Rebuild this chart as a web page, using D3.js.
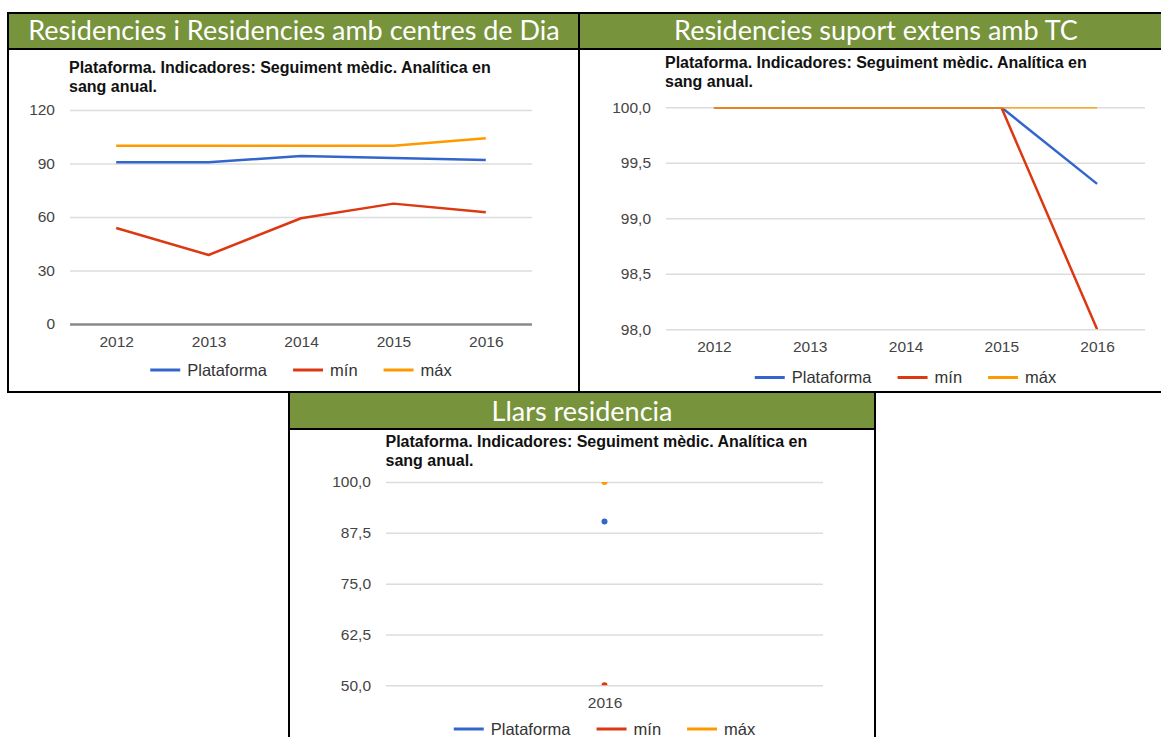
<!DOCTYPE html>
<html>
<head>
<meta charset="utf-8">
<script src="https://cdn.jsdelivr.net/npm/d3@7"></script>
<style>
  body { margin: 0; background: #fff; }
  svg { display: block; }
  .axis text { font-family: "Liberation Sans", Arial, sans-serif; font-size: 15.5px; fill: #444; }
  .sub { font-family: "Liberation Sans", Arial, sans-serif; font-size: 16px; font-weight: bold; fill: #111; }
  .legend text { font-family: "Liberation Sans", Arial, sans-serif; font-size: 16.5px; fill: #333; }
  .head { font-family: Lato, "Open Sans", sans-serif; font-size: 27px; fill: #fff; }
</style>
</head>
<body>
<div id="container"></div>
<script>
// data
const years = ["2012", "2013", "2014", "2015", "2016"];
const resPlataforma = [90.7, 90.7, 94.2, 93.1, 92.0];
const resMin = [53.8, 38.7, 59.3, 67.5, 62.6];
const resMax = [100, 100, 100, 100, 104.1];
const resTicks = [0, 30, 60, 90, 120];

const extPlataforma = [100, 100, 100, 100, 99.31];
const extMin = [100, 100, 100, 100, 98.0];
const extMax = [100, 100, 100, 100, 100];
const extTicks = [98, 98.5, 99, 99.5, 100];

const llarsYears = ["2016"];
const llarsPlataforma = [90.3];
const llarsMin = [50];
const llarsMax = [100];
const llarsTicks = [50, 62.5, 75, 87.5, 100];

const seriesNames = ["Plataforma", "mín", "máx"];
const colors = ["#3366cc", "#dc3912", "#ff9900"];
const subtitle = ["Plataforma. Indicadores: Seguiment mèdic. Analítica en", "sang anual."];

const width = 1161, height = 737;
const green = "#77933c";

const svg = d3.select("#container").append("svg")
  .attr("width", width).attr("height", height);

const comma = d3.formatLocale({decimal: ",", thousands: ".", grouping: [3], currency: ["", "€"]});

// panel boxes with green headers
function panel(x0, y0, x1, y1, headH, title, titleX, baseline) {
  svg.append("rect").attr("x", x0).attr("y", y0).attr("width", x1 - x0).attr("height", y1 - y0)
    .attr("fill", "#fff");
  svg.append("rect").attr("x", x0).attr("y", y0).attr("width", x1 - x0).attr("height", headH)
    .attr("fill", green);
  svg.append("line").attr("x1", x0).attr("x2", x1).attr("y1", y0 + headH).attr("y2", y0 + headH)
    .attr("stroke", "#000").attr("stroke-width", 2);
  svg.append("rect").attr("x", x0).attr("y", y0).attr("width", x1 - x0).attr("height", y1 - y0)
    .attr("fill", "none").attr("stroke", "#000").attr("stroke-width", 2);
  svg.append("text").attr("class", "head").attr("x", titleX).attr("y", baseline)
    .attr("text-anchor", "middle").text(title);
}

panel(8, 13, 579, 392, 36, "Residencies i Residencies amb centres de Dia", 294, 40);
panel(579, 13, 1175, 392, 36, "Residencies suport extens amb TC", 876, 40);
panel(289, 392, 875, 745, 37, "Llars residencia", 582, 421);

function drawChart(cfg) {
  const g = svg.append("g");
  const x = d3.scalePoint().domain(cfg.cats).range([cfg.left, cfg.right]).padding(0.5);
  const y = d3.scaleLinear().domain([cfg.ticks[0], cfg.ticks[cfg.ticks.length - 1]])
    .range([cfg.bottom, cfg.top]);

  // subtitle
  subtitle.forEach((s, i) => {
    g.append("text").attr("class", "sub").attr("x", cfg.subX).attr("y", cfg.subY + i * 19).text(s);
  });

  const yAxis = g.append("g").attr("class", "axis")
    .attr("transform", "translate(" + cfg.left + ",0)")
    .call(d3.axisLeft(y).tickValues(cfg.ticks).tickSize(-(cfg.right - cfg.left)).tickPadding(15)
      .tickFormat(cfg.fmt));
  yAxis.select(".domain").remove();
  yAxis.selectAll("line").attr("stroke", "#dcdcdc").attr("stroke-width", 1.5);
  if (cfg.zeroLine) {
    yAxis.selectAll(".tick").filter(d => d === 0).select("line")
      .attr("stroke", "#8a8a8a").attr("stroke-width", 2.5);
  }

  const xAxis = g.append("g").attr("class", "axis")
    .attr("transform", "translate(0," + cfg.bottom + ")")
    .call(d3.axisBottom(x).tickSize(0).tickPadding(12));
  xAxis.select(".domain").remove();
  xAxis.selectAll("text").attr("fill", "#333");

  const clipId = "clip" + cfg.id;
  svg.append("clipPath").attr("id", clipId).append("rect")
    .attr("x", cfg.left).attr("y", cfg.top).attr("width", cfg.right - cfg.left)
    .attr("height", cfg.bottom - cfg.top);

  const plot = g.append("g").attr("clip-path", "url(#" + clipId + ")");
  const line = d3.line().x((d, i) => x(cfg.cats[i])).y(d => y(d));

  cfg.series.forEach((vals, k) => {
    if (vals.length > 1) {
      plot.append("path").datum(vals)
        .attr("fill", "none").attr("stroke", colors[k]).attr("stroke-width", 2.5)
        .attr("stroke-linejoin", "round").attr("d", line);
    } else {
      plot.selectAll(null).data(vals).enter().append("circle")
        .attr("cx", (d, i) => x(cfg.cats[i])).attr("cy", d => y(d)).attr("r", 3)
        .attr("fill", colors[k]);
    }
  });

  // legend centred under the plot
  const leg = g.append("g").attr("class", "legend");
  let cx = 0;
  seriesNames.forEach((name, k) => {
    const it = leg.append("g");
    it.append("line").attr("x1", 0).attr("x2", 30).attr("y1", 0).attr("y2", 0)
      .attr("stroke", colors[k]).attr("stroke-width", 3);
    const t = it.append("text").attr("x", 37).attr("dy", "0.36em").text(name);
    const w = 37 + t.node().getComputedTextLength();
    it.attr("transform", "translate(" + cx + ",0)");
    cx += w + 26;
  });
  const total = cx - 26;
  leg.attr("transform", "translate(" + ((cfg.left + cfg.right) / 2 - total / 2) + "," + cfg.legY + ")");
}

drawChart({
  id: 1, cats: years, series: [resPlataforma, resMin, resMax], ticks: resTicks,
  left: 70, right: 532, top: 110, bottom: 324, zeroLine: true,
  fmt: d3.format("d"), subX: 69, subY: 73, legY: 370
});

drawChart({
  id: 2, cats: years, series: [extPlataforma, extMin, extMax], ticks: extTicks,
  left: 666, right: 1145, top: 107.3, bottom: 329.3, zeroLine: false,
  fmt: comma.format(".1f"), subX: 665, subY: 68, legY: 377.5
});

drawChart({
  id: 3, cats: llarsYears, series: [llarsPlataforma, llarsMin, llarsMax], ticks: llarsTicks,
  left: 386, right: 823, top: 482, bottom: 685.3, zeroLine: false,
  fmt: comma.format(".1f"), subX: 385.5, subY: 447, legY: 729
});
</script>
</body>
</html>
